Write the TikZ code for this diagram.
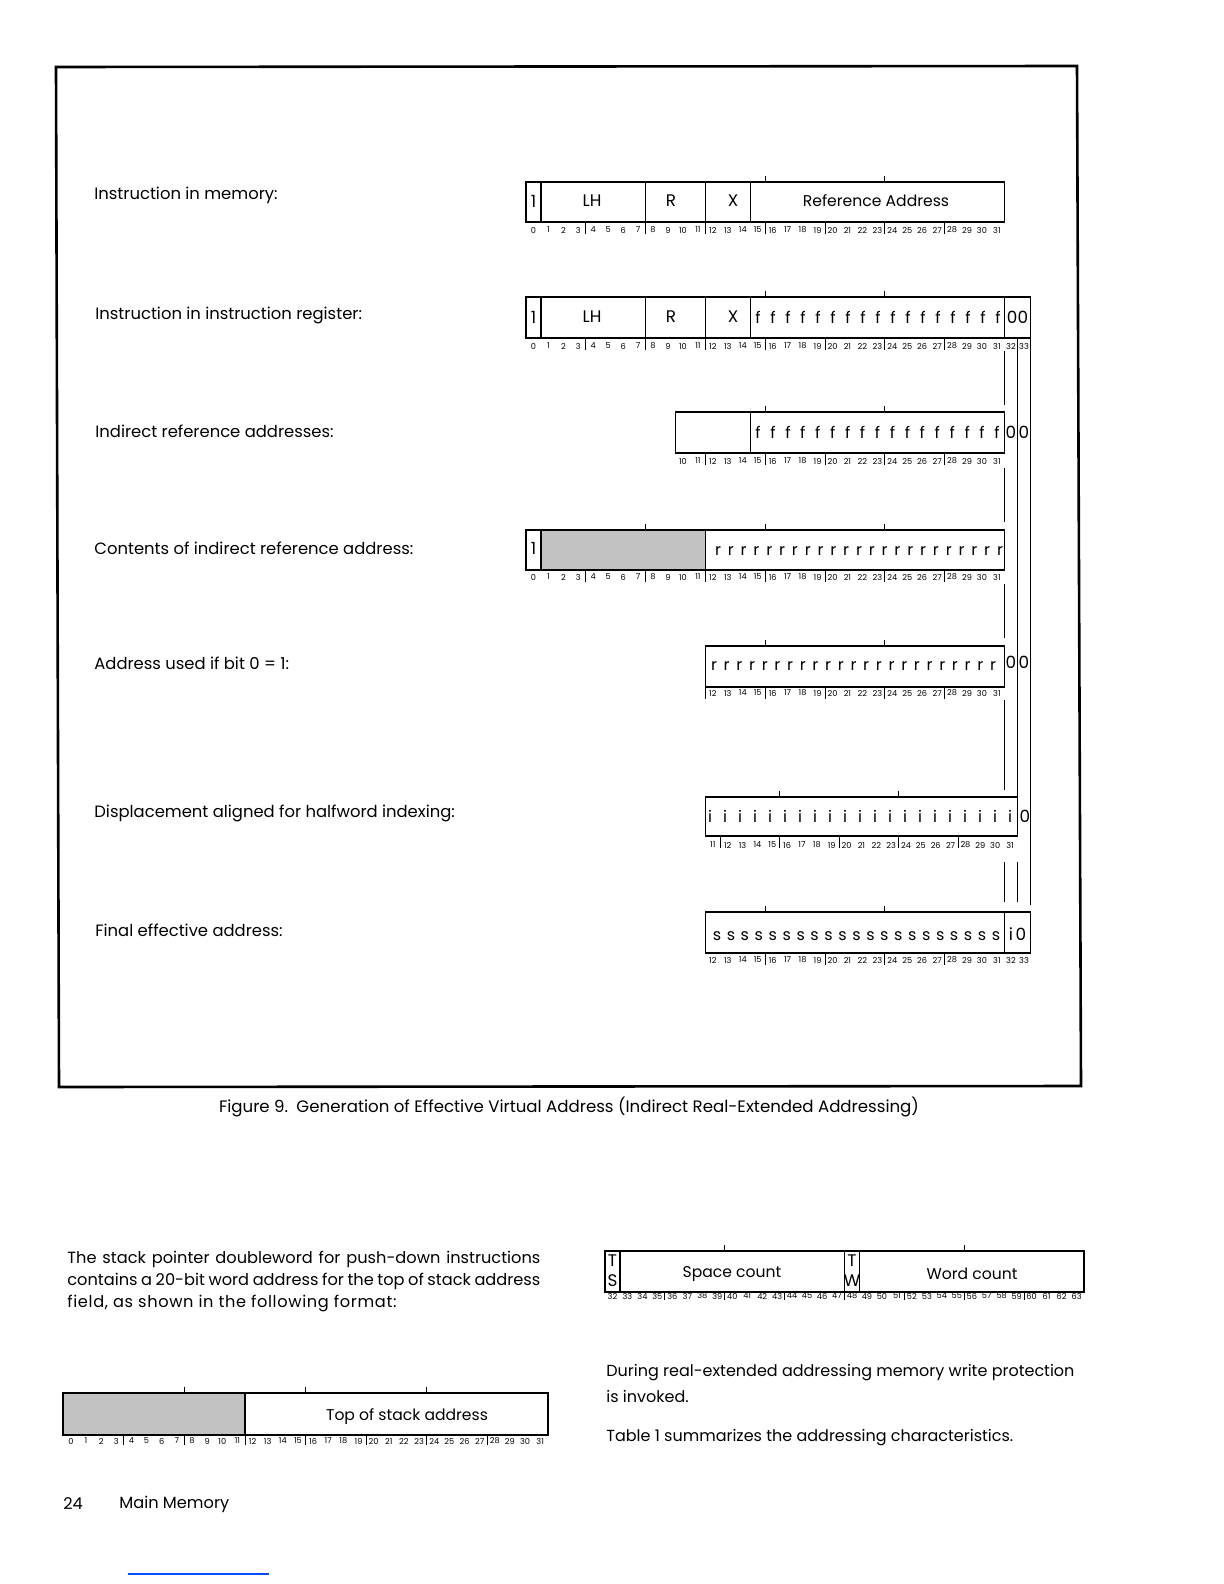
\documentclass[tikz,border=0pt]{standalone}
\usepackage{fontspec}
\setmainfont{Poppins}
\newcommand\bitnums[5]{% #1 prefix, #2 x of first bit left edge, #3 first bit, #4 last bit, #5 y
  \foreach \b in {#3,...,#4}{\node[bitnum] (#1\b) at ({#2+(\b-#3+0.5)*14.95},#5) {\b};}}
\newcommand\letters[6]{% #1 prefix, #2 letter, #3 count, #4 x first, #5 x last, #6 y
  \foreach \k in {1,...,#3}{\node[ch] (#1\k) at ({#4+(\k-1)*(#5-#4)/(#3-1)},#6) {#2};}}
\begin{document}
\begin{tikzpicture}[x=0.5pt,y=-0.5pt,
  box/.style={line width=0.9pt},
  div/.style={line width=0.7pt},
  tick/.style={line width=0.45pt},
  vline/.style={line width=0.75pt},
  shade/.style={fill=black!24},
  bitnum/.style={inner sep=0pt,font=\fontsize{4.1}{5}\selectfont},
  lab/.style={inner sep=0pt,anchor=west,font=\fontsize{8.2}{10}\selectfont},
  fld/.style={inner sep=0pt,font=\fontsize{8.4}{10}\selectfont},
  fldl/.style={inner sep=0pt,font=\fontsize{7.8}{10}\selectfont},
  ch/.style={inner sep=0pt,font=\fontsize{8}{10}\selectfont},
  txt/.style={inner sep=0pt,anchor=west,font=\fontsize{8.1}{11}\selectfont}]
\useasboundingbox (0,0) rectangle (1224,1584);
% frame
\draw[line width=1.3pt,line join=miter] (56,67) -- (1077,66) -- (1081,1086) -- (59,1087) -- cycle;

% ---------- labels ----------
\node[lab] (l1) at (94,195) {Instruction in memory:};
\node[lab] (l2) at (95,315) {Instruction in instruction register:};
\node[lab] (l3) at (95,431) {Indirect reference addresses:};
\node[lab] (l4) at (94,548) {Contents of indirect reference address:};
\node[lab] (l5) at (94,663) {Address used if bit 0 = 1:};
\node[lab] (l6) at (94,813) {Displacement aligned for halfword indexing:};
\node[lab] (l7) at (95,930) {Final effective address:};

% ---------- register 1 ----------
\draw[box] (526,182) rectangle (1004.4,222);
\foreach \b in {1,8,12,15} \draw[div] ({526+\b*14.95},182) -- ({526+\b*14.95},222);
\foreach \b in {16,24} \draw[tick] ({526+\b*14.95},182) -- ++(0,-6);
\foreach \b in {4,8,...,28} \draw[tick] ({526+\b*14.95},222) -- ++(0,12);
\bitnums{a}{526}{0}{31}{230}
\node[fld] (a-one) at (533.5,201) {1};
\node[fld] (a-lh) at (592,201) {LH};
\node[fld] (a-r) at (671,201) {R};
\node[fld] (a-x) at (733,201) {X};
\node[fldl] (a-ra) at (876,201) {Reference Address};

% ---------- register 2 ----------
\draw[box] (526,297) rectangle (1030.5,338);
\foreach \b in {1,8,12,15} \draw[div] ({526+\b*14.95},297) -- ({526+\b*14.95},338);
\draw[div] (1004.4,297) -- (1004.4,338);
\foreach \b in {16,24} \draw[tick] ({526+\b*14.95},297) -- ++(0,-6);
\foreach \b in {4,8,...,28} \draw[tick] ({526+\b*14.95},338) -- ++(0,12);
\bitnums{b}{526}{0}{31}{346}
\node[bitnum] (b32) at (1011,346) {32};
\node[bitnum] (b33) at (1024,346) {33};
\node[fld] (b-one) at (533.5,317) {1};
\node[fld] (b-lh) at (592,317) {LH};
\node[fld] (b-r) at (671,317) {R};
\node[fld] (b-x) at (733,317) {X};
\letters{bf}{f}{17}{758}{998}{317}
\node[fld] (b-oo) at (1017.5,317) {00};

% ---------- register 3 ----------
\draw[box] (675.5,412) rectangle (1004.4,453);
\draw[div] (750.25,412) -- (750.25,453);
\foreach \b in {16,24} \draw[tick] ({526+\b*14.95},412) -- ++(0,-6);
\foreach \b in {12,16,...,28} \draw[tick] ({526+\b*14.95},453) -- ++(0,12);
\bitnums{c}{675.5}{10}{31}{461}
\letters{cf}{f}{17}{758}{997}{432}
\node[fld] (c-o1) at (1011,432) {0};
\node[fld] (c-o2) at (1024,432) {0};

% ---------- register 4 ----------
\fill[shade] (541,530) rectangle (705.4,570);
\draw[box] (526,530) rectangle (1004.4,570);
\draw[div] (541,530) -- (541,570);
\draw[div] (705.4,530) -- (705.4,570);
\foreach \b in {8,16,24} \draw[tick] ({526+\b*14.95},530) -- ++(0,-6);
\foreach \b in {4,8,...,28} \draw[tick] ({526+\b*14.95},570) -- ++(0,12);
\bitnums{d}{526}{0}{31}{577}
\node[fld] (d-one) at (533.5,548) {1};
\letters{dr}{r}{23}{718}{1000}{551}

% ---------- register 5 ----------
\draw[box] (705.4,646) rectangle (1004.4,687);
\foreach \b in {16,24} \draw[tick] ({526+\b*14.95},646) -- ++(0,-6);
\foreach \b in {12,16,...,28} \draw[tick] ({526+\b*14.95},687) -- ++(0,12);
\bitnums{e}{705.4}{12}{31}{693}
\letters{er}{r}{23}{714}{993}{666}
\node[fld] (e-o1) at (1011,662) {0};
\node[fld] (e-o2) at (1024,662) {0};

% ---------- register 6 ----------
\draw[box] (705.4,797) rectangle (1017.5,836);
\foreach \b in {16,24} \draw[tick] ({705.4+(\b-11)*14.86},797) -- ++(0,-6);
\foreach \b in {12,16,...,28} \draw[tick] ({705.4+(\b-11)*14.86},836) -- ++(0,12);
\foreach \b in {11,...,31}{\node[bitnum] (f\b) at ({705.4+(\b-11+0.5)*14.86},845) {\b};}
\letters{fi}{i}{21}{710}{1010}{816}
\node[fld] (f-o) at (1025,816) {0};

% ---------- register 7 ----------
\draw[box] (705.4,912) rectangle (1030.5,953);
\draw[div] (1004.4,912) -- (1004.4,953);
\foreach \b in {16,24} \draw[tick] ({526+\b*14.95},912) -- ++(0,-6);
\foreach \b in {16,20,...,28} \draw[tick] ({526+\b*14.95},953) -- ++(0,12);
\bitnums{g}{705.4}{12}{31}{960}
\node[bitnum] (g32) at (1011,960) {32};
\node[bitnum] (g33) at (1024,960) {33};
\letters{gs}{s}{21}{717}{996}{936}
\node[fld] (g-io) at (1017.5,934) {i\,0};

% ---------- vertical lines ----------
\draw[vline] (1004.4,351) -- (1004.4,405);
\draw[vline] (1004.4,468) -- (1004.4,522);
\draw[vline] (1004.4,584) -- (1004.4,638);
\draw[vline] (1004.4,700) -- (1004.4,790);
\draw[vline] (1004.4,862) -- (1004.4,902);
\draw[vline] (1017.5,338) -- (1017.5,797);
\draw[vline] (1017.5,862) -- (1017.5,902);
\draw[vline] (1030.5,338) -- (1030.5,905);

% ---------- caption ----------
\node[inner sep=0pt,font=\fontsize{8.3}{11}\selectfont] (cap) at (569,1107)
  {Figure 9.\enspace Generation of Effective Virtual Address (Indirect Real-Extended Addressing)};

% ---------- left paragraph ----------
\node[txt] (p1) at (67,1259) {\makebox[236.5pt][s]{The stack pointer doubleword for push-down instructions}};
\node[txt] (p2) at (67,1281) {\makebox[236.5pt][s]{contains a 20-bit word address for the top of stack address}};
\node[txt] (p3) at (67,1303) {\addfontfeature{LetterSpace=4}field, as shown in the following format:};

% ---------- space/word count register ----------
\draw[box] (605,1251) rectangle (1084,1292);
\foreach \b in {33,48,49} \draw[div] ({605+(\b-32)*14.97},1251) -- ({605+(\b-32)*14.97},1292);
\foreach \b in {40,56} \draw[tick] ({605+(\b-32)*14.97},1251) -- ++(0,-6);
\foreach \b in {36,40,...,60} \draw[tick] ({605+(\b-32)*14.97},1292) -- ++(0,8);
\foreach \b in {32,...,63}{\node[bitnum] (h\b) at ({605+(\b-32+0.5)*14.97},1296) {\b};}
\node[fld] (h-t1) at (612.5,1261) {T};
\node[fld] (h-s) at (612.5,1281) {S};
\node[fld] (h-t2) at (852,1261) {T};
\node[fld] (h-w) at (852,1281) {W};
\node[fldl] (h-sc) at (732,1274) {Space count};
\node[fldl] (h-wc) at (972,1274) {Word count};

% ---------- right paragraph ----------
\node[txt,font=\fontsize{8}{11}\selectfont] (q1) at (606,1373) {During real-extended addressing memory write protection};
\node[txt,font=\fontsize{8}{11}\selectfont] (q2) at (606,1396) {is invoked.};
\node[txt,font=\fontsize{8}{11}\selectfont] (q3) at (606,1438) {Table 1 summarizes the addressing characteristics.};

% ---------- top of stack register ----------
\fill[shade] (63.3,1393) rectangle ({63.3+12*15.14},1435);
\draw[box] (63.3,1393) rectangle (547.7,1435);
\draw[div] ({63.3+12*15.14},1393) -- ({63.3+12*15.14},1435);
\foreach \b in {8,16,24} \draw[tick] ({63.3+\b*15.14},1393) -- ++(0,-6);
\foreach \b in {4,8,...,28} \draw[tick] ({63.3+\b*15.14},1435) -- ++(0,10);
\foreach \b in {0,...,31}{\node[bitnum] (k\b) at ({63.3+(\b+0.5)*15.14},1441) {\b};}
\node[fldl] (k-tos) at (407,1417) {Top of stack address};

% ---------- footer ----------
\node[txt] (pg) at (63,1504) {24};
\node[txt] (mm) at (119,1504) {Main Memory};
\draw[line width=0.6pt,color=blue!70!cyan] (128,1574) -- (269,1574);
\end{tikzpicture}
\end{document}
